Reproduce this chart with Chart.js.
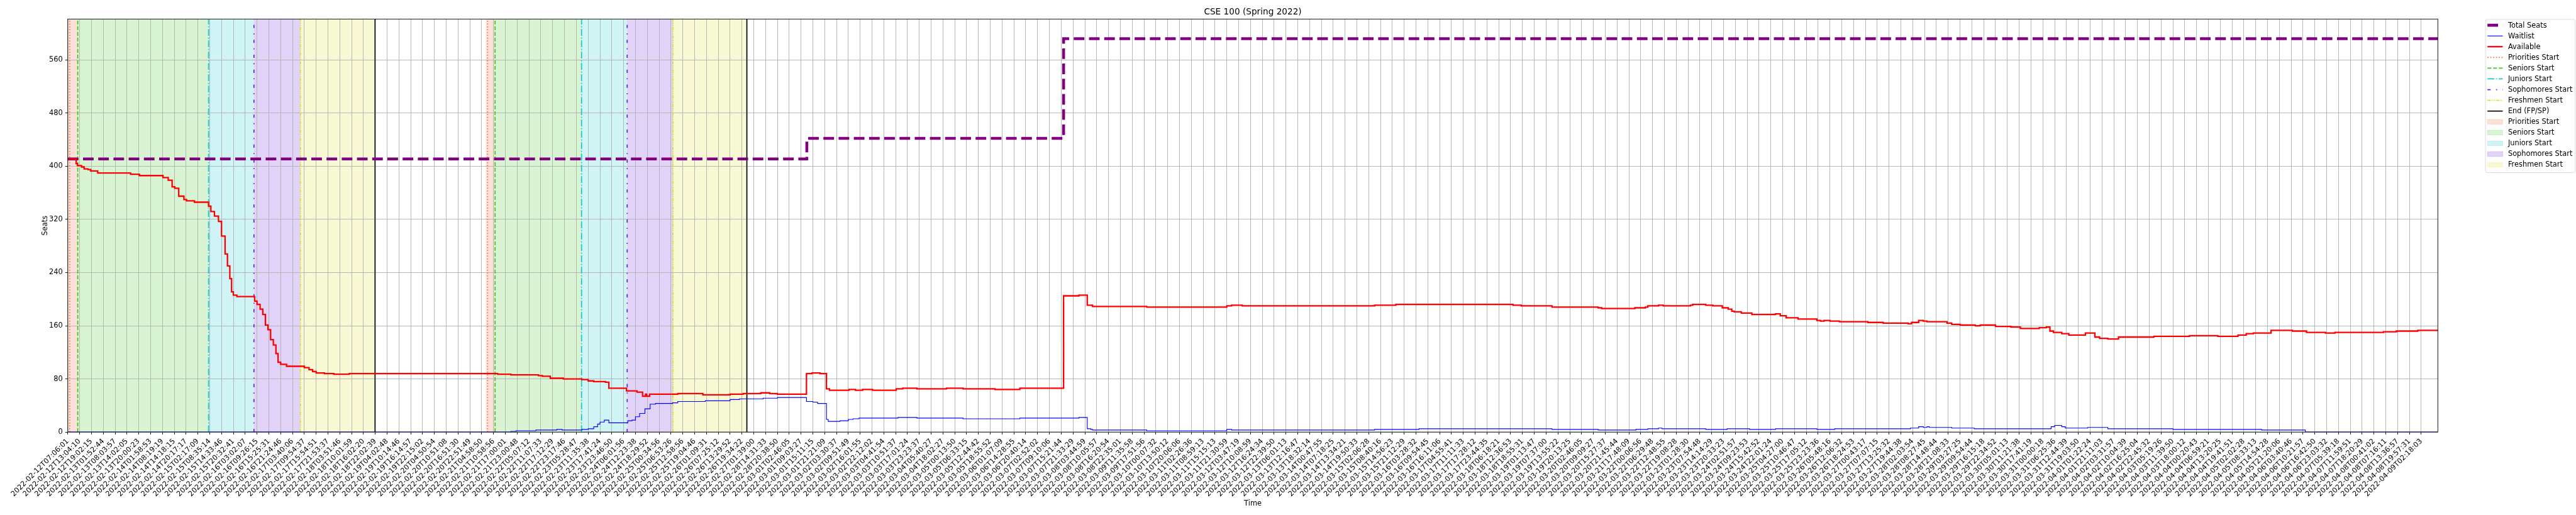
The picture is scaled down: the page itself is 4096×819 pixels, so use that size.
<!DOCTYPE html>
<html>
<head>
<meta charset="utf-8">
<title>CSE 100 (Spring 2022)</title>
<script src="https://cdn.jsdelivr.net/npm/chart.js@4.4.1/dist/chart.umd.min.js"></script>
<style>
  html, body { margin: 0; padding: 0; background: #ffffff; }
  #wrap { width: 4096px; height: 819px; }
</style>
</head>
<body>
<div id="wrap"><canvas id="graph" width="4096" height="819"></canvas></div>
<script>
// tick labels, one per tick position (x in tick units)
const tickLabels = [
  '2022-02-12T07:06:01', '2022-02-12T13:04:10', '2022-02-12T19:02:15', '2022-02-13T01:52:44',
  '2022-02-13T08:03:57', '2022-02-13T14:02:05', '2022-02-13T20:00:23', '2022-02-14T01:58:53',
  '2022-02-14T08:19:19', '2022-02-14T14:18:15', '2022-02-14T20:17:17', '2022-02-15T02:17:09',
  '2022-02-15T08:35:14', '2022-02-15T14:33:46', '2022-02-15T20:32:41', '2022-02-16T03:02:07',
  '2022-02-16T09:26:15', '2022-02-16T15:25:31', '2022-02-16T21:24:46', '2022-02-17T03:40:06',
  '2022-02-17T09:54:37', '2022-02-17T15:54:51', '2022-02-17T21:53:37', '2022-02-18T03:51:46',
  '2022-02-18T10:01:59', '2022-02-18T16:02:20', '2022-02-18T22:02:39', '2022-02-19T04:02:48',
  '2022-02-19T10:14:46', '2022-02-19T16:14:57', '2022-02-19T22:15:02', '2022-02-20T04:50:54',
  '2022-02-20T10:51:08', '2022-02-20T16:51:30', '2022-02-20T22:51:49', '2022-02-21T04:58:50',
  '2022-02-21T10:58:56', '2022-02-21T17:00:01', '2022-02-21T23:00:48', '2022-02-22T05:07:12',
  '2022-02-22T11:07:33', '2022-02-22T17:12:29', '2022-02-22T23:17:46', '2022-02-23T05:28:47',
  '2022-02-23T11:35:38', '2022-02-23T17:41:24', '2022-02-23T23:46:50', '2022-02-24T06:01:56',
  '2022-02-24T12:23:38', '2022-02-24T18:29:52', '2022-02-25T00:34:56', '2022-02-25T06:53:26',
  '2022-02-25T12:58:56', '2022-02-25T19:04:46', '2022-02-26T01:09:31', '2022-02-26T07:25:12',
  '2022-02-26T13:29:52', '2022-02-26T19:34:22', '2022-02-27T01:39:00', '2022-02-28T14:31:33',
  '2022-02-28T20:38:50', '2022-03-01T02:46:05', '2022-03-01T09:03:27', '2022-03-01T15:11:15',
  '2022-03-01T21:21:09', '2022-03-02T03:30:37', '2022-03-02T09:51:49', '2022-03-02T16:01:55',
  '2022-03-02T22:12:02', '2022-03-03T04:41:54', '2022-03-03T10:51:37', '2022-03-03T17:01:24',
  '2022-03-03T23:23:37', '2022-03-04T05:40:27', '2022-03-04T18:02:27', '2022-03-05T00:13:50',
  '2022-03-05T06:33:15', '2022-03-05T12:44:42', '2022-03-05T18:55:52', '2022-03-06T01:07:09',
  '2022-03-06T14:28:55', '2022-03-06T20:40:14', '2022-03-07T02:52:02', '2022-03-07T09:10:06',
  '2022-03-07T15:21:44', '2022-03-07T21:33:29', '2022-03-08T03:44:59', '2022-03-08T10:05:57',
  '2022-03-08T16:20:54', '2022-03-08T22:35:01', '2022-03-09T11:35:58', '2022-03-09T17:51:56',
  '2022-03-10T00:07:32', '2022-03-10T13:50:12', '2022-03-10T20:06:06', '2022-03-11T02:26:36',
  '2022-03-11T08:59:13', '2022-03-11T15:15:13', '2022-03-11T21:30:59', '2022-03-12T03:47:19',
  '2022-03-12T10:08:59', '2022-03-12T16:24:34', '2022-03-12T22:39:50', '2022-03-13T06:01:13',
  '2022-03-13T12:16:47', '2022-03-13T18:32:14', '2022-03-14T00:47:55', '2022-03-14T07:18:25',
  '2022-03-14T13:34:21', '2022-03-14T19:50:33', '2022-03-15T02:06:28', '2022-03-15T08:40:16',
  '2022-03-15T14:56:23', '2022-03-15T21:12:29', '2022-03-16T03:28:32', '2022-03-16T09:54:45',
  '2022-03-16T16:11:06', '2022-03-17T04:55:41', '2022-03-17T11:11:33', '2022-03-17T17:28:12',
  '2022-03-17T23:44:35', '2022-03-18T06:18:21', '2022-03-18T12:36:53', '2022-03-18T18:55:31',
  '2022-03-19T01:13:47', '2022-03-19T07:37:00', '2022-03-19T13:55:22', '2022-03-19T20:13:25',
  '2022-03-20T02:46:05', '2022-03-20T09:09:27', '2022-03-20T15:27:37', '2022-03-20T21:45:44',
  '2022-03-21T17:48:09', '2022-03-22T00:06:56', '2022-03-22T06:29:48', '2022-03-22T12:48:55',
  '2022-03-22T19:08:28', '2022-03-23T01:28:30', '2022-03-23T07:54:48', '2022-03-23T14:14:29',
  '2022-03-23T20:33:23', '2022-03-24T02:51:57', '2022-03-24T09:23:53', '2022-03-24T15:42:52',
  '2022-03-24T22:01:24', '2022-03-25T04:27:00', '2022-03-25T10:46:47', '2022-03-25T17:05:12',
  '2022-03-25T23:23:36', '2022-03-26T05:48:16', '2022-03-26T12:06:32', '2022-03-26T18:24:53',
  '2022-03-27T00:43:17', '2022-03-27T07:07:15', '2022-03-27T13:25:32', '2022-03-27T19:44:38',
  '2022-03-28T02:03:54', '2022-03-28T08:27:45', '2022-03-28T14:48:44', '2022-03-28T21:08:33',
  '2022-03-29T03:27:25', '2022-03-29T09:54:44', '2022-03-29T16:15:18', '2022-03-29T22:34:52',
  '2022-03-30T05:01:13', '2022-03-30T11:21:38', '2022-03-30T17:41:19', '2022-03-31T00:00:18',
  '2022-03-31T06:25:36', '2022-03-31T12:44:39', '2022-03-31T19:03:50', '2022-04-01T01:22:24',
  '2022-04-01T21:11:03', '2022-04-02T03:31:57', '2022-04-02T10:04:39', '2022-04-02T16:25:04',
  '2022-04-02T22:45:32', '2022-04-03T05:19:26', '2022-04-03T11:39:50', '2022-04-03T18:00:12',
  '2022-04-04T00:20:43', '2022-04-04T06:59:21', '2022-04-04T13:20:25', '2022-04-04T19:41:51',
  '2022-04-05T02:02:28', '2022-04-05T08:33:13', '2022-04-05T14:54:28', '2022-04-05T21:20:06',
  '2022-04-06T03:40:46', '2022-04-06T10:21:57', '2022-04-06T16:42:50', '2022-04-06T23:03:32',
  '2022-04-07T05:39:18', '2022-04-07T11:59:51', '2022-04-07T18:20:29', '2022-04-08T00:41:02',
  '2022-04-08T07:16:11', '2022-04-08T13:36:57', '2022-04-08T19:57:31', '2022-04-09T02:18:03'
];
const xMax = 200.4;

// Total Seats (step changes)
const totalX = [0, 62.49, 84.2, 200.4];
const totalY = [411, 442, 592, 592];

// Waitlist (value holds from its x until the next point)
const waitX = [0, 37.47, 37.9, 39.58, 41.35, 41.8, 43.47, 44.0, 44.47, 44.8, 45.0, 45.36, 45.75,
  47.35, 47.7, 48.0, 48.35, 48.8, 49.24, 49.7, 51.13, 51.58, 53.9, 56.0, 56.8, 58.8, 60.0,
  62.46, 63.0, 63.4, 64.15, 64.3, 65.3, 66.0, 66.4, 66.9, 70.2, 71.8, 75.7, 80.5, 85.5,
  86.2, 86.5, 86.65, 91.23, 98.0, 98.4, 110.5, 114.25, 125.5, 129.4, 132.6, 133.6, 134.5,
  134.8, 138.5, 140.3, 142.2, 144.4, 147.9, 149.4, 155.8, 156.5, 156.9, 157.2, 157.4, 159.3,
  161.2, 167.7, 168.0, 168.6, 168.9, 170.8, 172.5, 178.0, 185.5, 189.2, 200.4];
const waitY = [0, 1, 2, 3, 4, 3, 4, 5, 8, 12, 15, 18, 14,
  17, 18, 23, 28, 35, 42, 43, 44, 46, 47, 49, 50, 51, 52,
  46, 45, 43, 19, 16, 17, 19, 20, 21, 22, 21, 20, 21, 22,
  5, 4, 3, 2, 4, 3, 4, 5, 4, 3, 4, 5, 6,
  5, 4, 5, 4, 5, 4, 5, 6, 8, 7, 8, 7, 6,
  5, 8, 10, 8, 6, 7, 5, 4, 3, 0, 0];

// Available (value holds from its x until the next point)
const availX = [0, 0.71, 0.82, 1.16, 1.38, 1.71, 1.93, 2.53, 5.31, 6.05, 8.05, 8.49, 8.82, 9.04,
  9.38, 9.82, 10.04, 10.71, 11.9, 12.1, 12.4, 12.74, 13.0, 13.3, 13.5, 13.7, 13.85, 14.0, 14.3,
  15.8, 16.0, 16.26, 16.49, 16.71, 16.93, 17.15, 17.38, 17.6, 17.78, 18.0, 18.5, 20.0, 20.4,
  20.7, 21.0, 21.7, 22.5, 23.8, 36.35, 37.47, 39.8, 40.13, 40.8, 41.9, 43.47, 44.0, 44.47,
  45.47, 45.75, 47.24, 48.13, 48.6, 48.85, 48.95, 49.2, 51.58, 53.7, 56.0, 57.1, 58.6, 59.35,
  60.0, 62.46, 62.93, 63.6, 64.15, 64.4, 66.05, 66.6, 67.2, 68.05, 70.04, 70.6, 71.8, 74.3,
  75.7, 78.4, 80.5, 84.2, 85.5, 86.2, 86.65, 91.23, 98.0, 98.4, 99.3, 110.5, 112.3, 122.2,
  122.9, 125.5, 129.4, 129.7, 132.5, 133.4, 133.6, 134.5, 134.9, 137.2, 137.4, 138.5, 139.1,
  139.9, 140.4, 140.7, 140.9, 141.5, 142.4, 144.4, 144.8, 145.3, 146.3, 147.9, 148.2, 148.5,
  149.0, 149.8, 152.2, 153.5, 155.6, 155.9, 156.5, 156.9, 157.2, 158.9, 159.3, 160.0, 161.3,
  161.7, 163.0, 164.3, 165.1, 166.7, 167.3, 167.6, 167.9, 168.6, 169.2, 170.6, 171.4, 171.8,
  172.5, 173.4, 176.4, 179.4, 181.8, 183.5, 184.2, 184.8, 186.3, 188.1, 189.3, 190.9, 191.7,
  195.8, 196.9, 198.7, 200.4];
const availY = [411, 404, 401, 399, 396, 395, 393, 390, 388, 386, 383, 379, 369, 367,
  355, 350, 348, 346, 340, 332, 325, 317, 295, 268, 250, 231, 211, 206, 204,
  197, 192, 185, 177, 161, 154, 139, 131, 118, 105, 102, 99, 97, 94,
  91, 89, 88, 87, 88, 87, 86, 85, 84, 81, 80, 79, 77, 76,
  75, 66, 62, 60, 54, 57, 54, 57, 58, 56, 57, 58, 59, 58,
  57, 88, 89, 88, 65, 63, 64, 63, 64, 63, 65, 66, 65, 66,
  65, 64, 66, 205, 206, 191, 189, 188, 190, 191, 190, 191, 192, 191,
  190, 188, 187, 186, 187, 188, 190, 191, 190, 191, 192, 191, 190,
  187, 185, 182, 181, 179, 177, 178, 175, 172, 170, 168, 167, 168,
  167, 166, 165, 164, 163, 165, 168, 167, 166, 164, 162, 161, 160,
  161, 159, 158, 156, 157, 158, 152, 150, 148, 146, 149, 143, 141,
  140, 143, 144, 145, 144, 146, 148, 149, 153, 152, 150, 149, 150,
  151, 152, 153, 153];

// registration periods, first pass and second pass (tick units)
const periodNames = ['Priorities Start', 'Seniors Start', 'Juniors Start', 'Sophomores Start', 'Freshmen Start'];
const firstPass = [0.16, 0.84, 11.9, 15.74, 19.67, 25.98];
const secondPass = [35.5, 36.13, 43.44, 47.3, 51.17, 57.42];
const prioritySpanStart = [0.01, 35.35];

const FONT = 'DejaVu Sans';
const periodColors = ['#f26b3a', '#3ec81e', '#14c8d0', '#6a1fd6', '#dede2e'];
const periodDash = [[1.7, 2.8], [6.3, 2.7], [10.9, 2.7, 1.7, 2.7], [5.1, 8.5, 1.7, 8.5], [5.1, 1.7, 1.7, 1.7, 1.7, 1.7]];
const eventWidth = 1.71;

function hexA(hex, a) {
    const n = parseInt(hex.slice(1), 16);
    return 'rgba(' + (n >> 16) + ',' + ((n >> 8) & 255) + ',' + (n & 255) + ',' + a + ')';
}

function pts(xs, ys) {
    return xs.map((x, i) => ({x: x, y: ys[i]}));
}

// shaded periods under the grid
const spanPlugin = {
    id: 'spans',
    beforeDraw(chart) {
        const {ctx, chartArea, scales} = chart;
        const x = scales.x;
        ctx.save();
        ctx.beginPath();
        ctx.rect(chartArea.left, chartArea.top, chartArea.right - chartArea.left, chartArea.bottom - chartArea.top);
        ctx.clip();
        [firstPass, secondPass].forEach((pass, p) => {
            for (let i = 0; i < 5; i++) {
                const a = x.getPixelForValue(i === 0 ? prioritySpanStart[p] : pass[i]);
                const b = x.getPixelForValue(pass[i + 1]);
                ctx.fillStyle = hexA(periodColors[i], 0.2);
                ctx.fillRect(a, chartArea.top, b - a, chartArea.bottom - chartArea.top);
            }
        });
        ctx.restore();
    }
};

// vertical event lines
const eventPlugin = {
    id: 'events',
    beforeDatasetsDraw(chart) {
        const {ctx, chartArea, scales} = chart;
        ctx.save();
        [firstPass, secondPass].forEach(pass => {
            pass.forEach((v, i) => {
                const px = scales.x.getPixelForValue(v);
                ctx.beginPath();
                ctx.strokeStyle = i < 5 ? periodColors[i] : '#000000';
                ctx.lineWidth = eventWidth;
                ctx.setLineDash(i < 5 ? periodDash[i] : []);
                ctx.moveTo(px, chartArea.bottom);
                ctx.lineTo(px, chartArea.top);
                ctx.stroke();
            });
        });
        ctx.restore();
    }
};

// frame, title, axis titles and legend
const decorPlugin = {
    id: 'decor',
    afterDatasetsDraw(chart) {
        const {ctx, chartArea} = chart;
        ctx.save();
        ctx.strokeStyle = '#000000';
        ctx.lineWidth = 0.91;
        ctx.setLineDash([]);
        ctx.strokeRect(chartArea.left, chartArea.top, chartArea.right - chartArea.left, chartArea.bottom - chartArea.top);
        ctx.restore();
    },
    afterDraw(chart) {
        const {ctx, chartArea} = chart;
        const cx = (chartArea.left + chartArea.right) / 2;
        ctx.save();
        ctx.fillStyle = '#000000';
        ctx.textAlign = 'center';
        ctx.textBaseline = 'alphabetic';
        ctx.font = '13.65px "' + FONT + '"';
        ctx.fillText('CSE 100 (Spring 2022)', cx, 23.3);
        ctx.font = '11.4px "' + FONT + '"';
        ctx.fillText('Time', cx, 804.3);
        ctx.save();
        ctx.translate(74.5, (chartArea.top + chartArea.bottom) / 2);
        ctx.rotate(-Math.PI / 2);
        ctx.fillText('Seats', 0, 0);
        ctx.restore();

        // legend
        const lx = 3952.2, ly = 30.9, lw = 142.5, lh = 243.5;
        ctx.beginPath();
        ctx.roundRect(lx, ly, lw, lh, 2.5);
        ctx.fillStyle = 'rgba(255,255,255,0.8)';
        ctx.fill();
        ctx.strokeStyle = '#d4d4d4';
        ctx.lineWidth = 0.82;
        ctx.stroke();

        const items = [
            {label: 'Total Seats', color: '#800080', width: 4.55, dash: [16.9, 7.3]},
            {label: 'Waitlist', color: '#0000ff', width: 1.14, dash: []},
            {label: 'Available', color: '#ff0000', width: 2.28, dash: []}
        ];
        periodNames.forEach((n, i) => items.push({label: n, color: periodColors[i], width: eventWidth, dash: periodDash[i]}));
        items.push({label: 'End (FP/SP)', color: '#000000', width: eventWidth, dash: []});
        periodNames.forEach((n, i) => items.push({label: n, patch: true, color: periodColors[i]}));

        const hx0 = 3955.2, hx1 = 3979.5, tx = 3987.9;
        ctx.font = '11.4px "' + FONT + '"';
        ctx.textAlign = 'left';
        ctx.textBaseline = 'middle';
        items.forEach((it, i) => {
            const y = 40.1 + 17.07 * i;
            if (it.patch) {
                ctx.fillStyle = hexA(it.color, 0.2);
                ctx.fillRect(hx0, y - 3.8, hx1 - hx0, 7.6);
                ctx.strokeStyle = hexA(it.color, 0.2);
                ctx.lineWidth = 0.8;
                ctx.strokeRect(hx0, y - 3.8, hx1 - hx0, 7.6);
            } else {
                ctx.beginPath();
                ctx.strokeStyle = it.color;
                ctx.lineWidth = it.width;
                ctx.setLineDash(it.dash);
                ctx.moveTo(hx0, y);
                ctx.lineTo(hx1, y);
                ctx.stroke();
                ctx.setLineDash([]);
            }
            ctx.fillStyle = '#000000';
            ctx.fillText(it.label, tx, y + 0.5);
        });
        ctx.restore();
    }
};

window.addEventListener('DOMContentLoaded', () => {
    const graph = document.getElementById('graph');
    const chart = new Chart(graph, {
        type: 'line',
        data: {
            datasets: [
                {
                    label: 'Total Seats',
                    data: pts(totalX, totalY),
                    borderColor: '#800080',
                    borderWidth: 4.55,
                    borderDash: [16.9, 7.3],
                    borderCapStyle: 'butt',
                    stepped: 'before',
                    pointRadius: 0,
                    fill: false,
                    order: 3
                },
                {
                    label: 'Waitlist',
                    data: pts(waitX, waitY),
                    borderColor: '#0000ff',
                    borderWidth: 1.14,
                    stepped: 'before',
                    pointRadius: 0,
                    fill: false,
                    order: 2
                },
                {
                    label: 'Available',
                    data: pts(availX, availY),
                    borderColor: '#ff0000',
                    borderWidth: 2.28,
                    stepped: 'before',
                    pointRadius: 0,
                    fill: false,
                    order: 1
                }
            ]
        },
        options: {
            responsive: false,
            animation: false,
            devicePixelRatio: 1,
            layout: {
                autoPadding: false,
                padding: {top: 30.3, right: 219.7, bottom: 0, left: 0}
            },
            plugins: {
                legend: {display: false},
                tooltip: {enabled: false},
                title: {display: false}
            },
            scales: {
                x: {
                    type: 'linear',
                    min: 0,
                    max: xMax,
                    afterBuildTicks: (s) => { s.ticks = tickLabels.map((_, i) => ({value: i})); },
                    afterFit: (s) => { s.height = 131.9; s.paddingLeft = 0; s.paddingRight = 0; },
                    ticks: {
                        autoSkip: false,
                        minRotation: 45,
                        maxRotation: 45,
                        padding: 4,
                        color: '#000000',
                        font: {family: FONT, size: 11.4},
                        callback: (v) => tickLabels[Math.round(v)]
                    },
                    grid: {
                        color: '#b0b0b0',
                        lineWidth: 0.91,
                        drawTicks: true,
                        tickLength: 4,
                        tickColor: '#000000',
                        tickWidth: 0.91
                    },
                    border: {display: false}
                },
                y: {
                    type: 'linear',
                    min: 0,
                    max: 621.6,
                    afterBuildTicks: (s) => { s.ticks = [0, 80, 160, 240, 320, 400, 480, 560].map(v => ({value: v})); },
                    afterFit: (s) => { s.width = 107.8; s.paddingTop = 0; s.paddingBottom = 0; },
                    ticks: {
                        padding: 4,
                        color: '#000000',
                        font: {family: FONT, size: 11.4}
                    },
                    grid: {
                        color: '#b0b0b0',
                        lineWidth: 0.91,
                        drawTicks: true,
                        tickLength: 4,
                        tickColor: '#000000',
                        tickWidth: 0.91
                    },
                    border: {display: false}
                }
            }
        },
        plugins: [spanPlugin, eventPlugin, decorPlugin]
    });
});
</script>
</body>
</html>
